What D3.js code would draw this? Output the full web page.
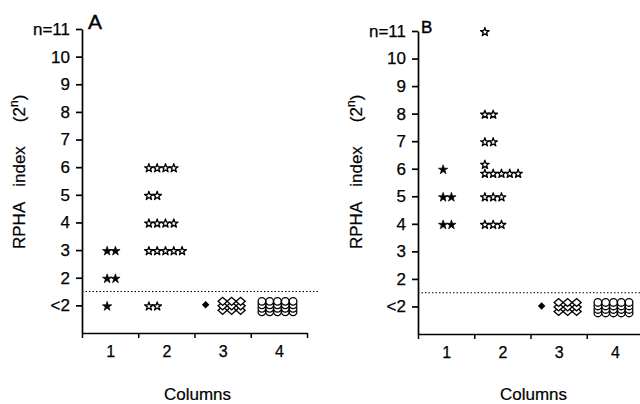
<!DOCTYPE html>
<html><head><meta charset="utf-8">
<script src="https://cdn.jsdelivr.net/npm/d3@7"></script>
<style>html,body{margin:0;padding:0;background:#fff}svg{display:block}</style>
</head><body><svg id="c" width="640" height="404"></svg>
<script>
// ---------- data ----------
const columns = ["1", "2", "3", "4"];
const yTickValues = [1, 2, 3, 4, 5, 6, 7, 8, 9, 10, 11];
const yTickLabels = ["<2", "2", "3", "4", "5", "6", "7", "8", "9", "10", "n=11"];
const thresholdLevel = 1.5;
const xTitle = "Columns";
const yTitleWords = ["RPHA", "index", "(2", "n", ")"];
const panelLetters = ["A", "B"];

// [level, count]
const panelAFilledStars    = [[3, 2], [2, 2], [1, 1]];                 // column 1
const panelAOpenStars      = [[6, 4], [5, 2], [4, 4], [3, 5], [1, 2]]; // column 2
const panelAFilledDiamonds = [[1, 1]];                                 // column 3
const panelAOpenDiamonds   = [[1, 9]];                                 // column 3
const panelAOpenCircles    = [[1, 20]];                                // column 4

const panelBFilledStars    = [[6, 1], [5, 2], [4, 2]];
const panelBOpenStars      = [[11, 1], [8, 2], [7, 2], [6, 6], [5, 3], [4, 3]];
const panelBFilledDiamonds = [[1, 1]];
const panelBOpenDiamonds   = [[1, 9]];
const panelBOpenCircles    = [[1, 20]];

// ---------- layout ----------
const FONT = "'Liberation Sans', Arial, sans-serif";
const svg = d3.select("#c");
svg.append("rect").attr("width", 640).attr("height", 404).attr("fill", "#fff");

const panels = [
  { letter: panelLetters[0], xr: [82, 307], yr: [333, 29], letterPos: [88, 29, 21], titleX: 25,
    filledStars: panelAFilledStars, openStars: panelAOpenStars, filledDiamonds: panelAFilledDiamonds,
    openDiamonds: panelAOpenDiamonds, openCircles: panelAOpenCircles },
  { letter: panelLetters[1], xr: [418, 643], yr: [334, 31], letterPos: [421, 33, 17], titleX: 362,
    filledStars: panelBFilledStars, openStars: panelBOpenStars, filledDiamonds: panelBFilledDiamonds,
    openDiamonds: panelBOpenDiamonds, openCircles: panelBOpenCircles }
];

const star = d3.symbol().type(d3.symbolStar);
const square = d3.symbol().type(d3.symbolSquare);

panels.forEach(p => {
  const g = svg.append("g");
  const x = d3.scaleLinear().domain([0, columns.length]).range(p.xr);
  const y = d3.scaleLinear().domain([0, 11]).range(p.yr);
  const colCenter = c => x(columns.indexOf(c) + 0.5);

  // y axis
  const ya = g.append("g").attr("transform", `translate(${p.xr[0]},0)`)
    .call(d3.axisLeft(y).tickValues(yTickValues).tickFormat((d, i) => yTickLabels[i])
      .tickSize(6).tickSizeOuter(0).tickPadding(6));
  ya.attr("font-family", null).attr("font-size", null);
  ya.selectAll("text").attr("font-family", FONT).attr("font-size", 17).attr("fill", "#000")
    .attr("stroke", "#000").attr("stroke-width", 0.25);
  ya.selectAll("path,line").attr("stroke", "#000").attr("stroke-width", 1.7);

  // x axis (boundary ticks)
  const xa = g.append("g").attr("transform", `translate(0,${p.yr[0]})`)
    .call(d3.axisBottom(x).tickValues(d3.range(columns.length + 1)).tickFormat("")
      .tickSize(5).tickSizeOuter(0));
  xa.selectAll("path,line").attr("stroke", "#000").attr("stroke-width", 1.5);
  // x labels centered in columns
  const xl = g.append("g").attr("transform", `translate(0,${p.yr[0]})`)
    .call(d3.axisBottom(x).tickValues(columns.map((c, i) => i + 0.5))
      .tickFormat((d, i) => columns[i]).tickSize(0).tickPadding(13));
  xl.select(".domain").remove();
  xl.attr("font-family", null).attr("font-size", null);
  xl.selectAll("text").attr("font-family", FONT).attr("font-size", 16).attr("fill", "#000")
    .attr("stroke", "#000").attr("stroke-width", 0.25);

  // threshold dotted line
  g.append("line")
    .attr("x1", p.xr[0]).attr("x2", x(columns.length) + 11)
    .attr("y1", y(thresholdLevel)).attr("y2", y(thresholdLevel))
    .attr("stroke", "#000").attr("stroke-width", 1.1).attr("stroke-dasharray", "1.5,2");

  // titles
  g.append("text").attr("x", (p.xr[0] + p.xr[1]) / 2 + 3).attr("y", 400)
    .attr("text-anchor", "middle").attr("font-family", FONT).attr("font-size", 17)
    .attr("fill", "#000").attr("stroke", "#000").attr("stroke-width", 0.2).text(xTitle);

  const yt = g.append("text").attr("transform", `translate(${p.titleX},249) rotate(-90)`)
    .attr("font-family", FONT).attr("font-size", 17).attr("fill", "#000")
    .attr("stroke", "#000").attr("stroke-width", 0.2);
  yt.append("tspan").text(yTitleWords[0]);
  yt.append("tspan").attr("dx", 15).text(yTitleWords[1]);
  yt.append("tspan").attr("dx", 24).text(yTitleWords[2]);
  yt.append("tspan").attr("dy", -7).attr("font-size", 12).text(yTitleWords[3]);
  yt.append("tspan").attr("dy", 7).text(yTitleWords[4]);

  g.append("text").attr("x", p.letterPos[0]).attr("y", p.letterPos[1])
    .attr("font-family", FONT).attr("font-size", p.letterPos[2]).attr("fill", "#000")
    .attr("stroke", "#000").attr("stroke-width", 0.4).text(p.letter);

  // ---- markers ----
  const mk = g.append("g");
  const starSpacing = 8.3;
  function drawStars(data, col, offset, filled) {
    data.forEach(([lvl, n]) => {
      const x0 = colCenter(col) + offset;
      const pts = [];
      if (n <= 5) {
        for (let k = 0; k < n; k++) pts.push([x0 + k * starSpacing, y(lvl)]);
      } else {
        for (let k = 0; k < n - 5; k++) pts.push([x0 + k * starSpacing, y(lvl) - 5]);
        for (let k = 0; k < 5; k++) pts.push([x0 + k * starSpacing, y(lvl) + 4]);
      }
      pts.forEach(([px, py]) => {
        mk.append("path").attr("d", star.size(filled ? 27 : 23)())
          .attr("transform", `translate(${px},${py + 1})`)
          .attr("fill", filled ? "#000" : "#fff").attr("stroke", "#000")
          .attr("stroke-width", filled ? 0.7 : 1.3).attr("stroke-linejoin", "round");
      });
    });
  }
  drawStars(p.filledStars, columns[0], -3, true);
  drawStars(p.openStars, columns[1], -17.5, false);

  // filled diamond
  p.filledDiamonds.forEach(([lvl, n]) => {
    for (let k = 0; k < n; k++) {
      mk.append("path").attr("d", square.size(28)())
        .attr("transform", `translate(${colCenter(columns[2]) - 17 + k * 8},${y(lvl) - 0.5}) rotate(45)`)
        .attr("fill", "#000");
    }
  });
  // open diamonds: stacks of 3
  p.openDiamonds.forEach(([lvl, n]) => {
    const perStack = 3, offs = [5, 0.5, -4];
    const pts = [];
    for (let k = 0; k < n; k++) {
      const s = Math.floor(k / perStack), r = k % perStack;
      pts.push([colCenter(columns[2]) + s * 9, y(lvl) + offs[r], r]);
    }
    pts.sort((a, b) => a[2] - b[2]);
    pts.forEach(([px, py]) => {
      mk.append("path").attr("d", square.size(34)())
        .attr("transform", `translate(${px},${py}) scale(1.1,0.95) rotate(45)`)
        .attr("fill", "#fff").attr("stroke", "#000").attr("stroke-width", 1.3);
    });
  });
  // open circles: stacks of 4
  p.openCircles.forEach(([lvl, n]) => {
    const perStack = 4, offs = [6.5, 3, -0.5, -4];
    const pts = [];
    for (let k = 0; k < n; k++) {
      const s = Math.floor(k / perStack), r = k % perStack;
      pts.push([colCenter(columns[3]) - 17 + s * 7.8, y(lvl) + offs[r], r]);
    }
    pts.sort((a, b) => a[2] - b[2]);
    pts.forEach(([px, py]) => {
      mk.append("circle").attr("cx", px).attr("cy", py).attr("r", 3.8)
        .attr("fill", "#fff").attr("stroke", "#000").attr("stroke-width", 1.3);
    });
  });
});
</script></body></html>
